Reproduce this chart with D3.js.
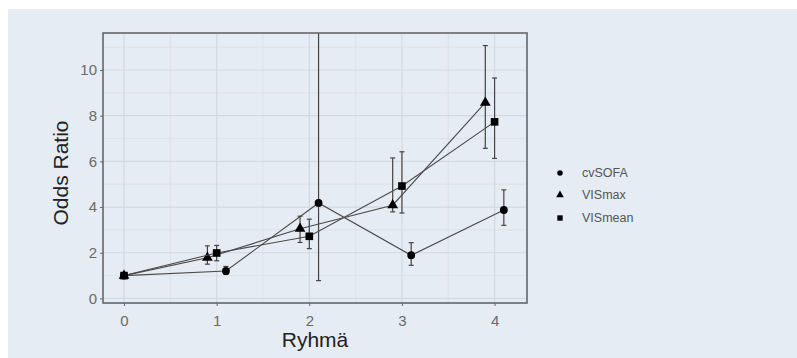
<!DOCTYPE html>
<html>
<head>
<meta charset="utf-8">
<script src="https://cdn.jsdelivr.net/npm/d3@7"></script>
<style>
  body { margin: 0; background: #fff; }
  text { font-family: "Liberation Sans", Arial, sans-serif; }
</style>
</head>
<body>
<div id="chart"></div>
<script>
// data
var groups = [0, 1, 2, 3, 4];
var seriesNames = ["cvSOFA", "VISmax", "VISmean"];
var cvSOFA = [1.0, 1.2, 4.18, 1.89, 3.87];
var cvSOFALow = [1.0, 1.05, 0.78, 1.45, 3.2];
var cvSOFAHigh = [1.0, 1.4, 20, 2.44, 4.75];
var VISmax = [1.0, 1.78, 3.05, 4.08, 8.57];
var VISmaxLow = [1.0, 1.5, 2.45, 3.79, 6.57];
var VISmaxHigh = [1.0, 2.3, 3.6, 6.15, 11.07];
var VISmean = [1.0, 1.99, 2.72, 4.92, 7.73];
var VISmeanLow = [1.0, 1.65, 2.18, 3.74, 6.13];
var VISmeanHigh = [1.0, 2.32, 3.47, 6.42, 9.65];
var dodge = [0.1, -0.1, 0];
var yTicks = [0, 2, 4, 6, 8, 10];

var svgWidth = 797;
var svgHeight = 358;

var panel = { left: 103, top: 33, right: 527, bottom: 303 };

var svg = d3.select("#chart")
            .append("svg")
            .attr("width", svgWidth)
            .attr("height", svgHeight);

// plot background
svg.append("rect")
   .attr("x", 8).attr("y", 9)
   .attr("width", svgWidth - 8).attr("height", svgHeight - 9)
   .attr("fill", "#e6ecf3");

var xScale = d3.scaleLinear()
               .domain([-0.227, 4.35])
               .range([panel.left, panel.right]);
var yScale = d3.scaleLinear()
               .domain([-0.2, 11.62])
               .range([panel.bottom, panel.top]);

var chartGroup = svg.append("g");

svg.append("clipPath").attr("id", "clip")
   .append("rect")
   .attr("x", panel.left).attr("y", panel.top)
   .attr("width", panel.right - panel.left)
   .attr("height", panel.bottom - panel.top);

// grid
var minorX = [0.5, 1.5, 2.5, 3.5];
var minorY = [1, 3, 5, 7, 9, 11];
chartGroup.selectAll(".gxm").data(minorX).enter().append("line")
   .attr("x1", d => xScale(d)).attr("x2", d => xScale(d))
   .attr("y1", panel.top).attr("y2", panel.bottom)
   .attr("stroke", "#d9e0e8").attr("stroke-width", 0.8);
chartGroup.selectAll(".gym").data(minorY).enter().append("line")
   .attr("y1", d => yScale(d)).attr("y2", d => yScale(d))
   .attr("x1", panel.left).attr("x2", panel.right)
   .attr("stroke", "#d9e0e8").attr("stroke-width", 0.8);
chartGroup.selectAll(".gx").data(groups).enter().append("line")
   .attr("x1", d => xScale(d)).attr("x2", d => xScale(d))
   .attr("y1", panel.top).attr("y2", panel.bottom)
   .attr("stroke", "#d2d9e2").attr("stroke-width", 1.2);
chartGroup.selectAll(".gy").data(yTicks).enter().append("line")
   .attr("y1", d => yScale(d)).attr("y2", d => yScale(d))
   .attr("x1", panel.left).attr("x2", panel.right)
   .attr("stroke", "#d2d9e2").attr("stroke-width", 1.2);

// axes
var xAxis = d3.axisBottom(xScale).tickValues(groups).tickSize(3).tickPadding(9).tickFormat(d3.format("d"));
var yAxis = d3.axisLeft(yScale).tickValues(yTicks).tickSize(3).tickPadding(3);

var gx = chartGroup.append("g")
   .attr("transform", `translate(0, ${panel.bottom})`)
   .call(xAxis);
var gy = chartGroup.append("g")
   .attr("transform", `translate(${panel.left}, 0)`)
   .call(yAxis);
[gx, gy].forEach(function(g) {
    g.select(".domain").remove();
    g.selectAll(".tick line").attr("stroke", "#666");
    g.selectAll(".tick text").attr("fill", "#6a6a6a").attr("font-size", 15);
});

// series
var series = [
    { name: seriesNames[0], y: cvSOFA, lo: cvSOFALow, hi: cvSOFAHigh, shape: d3.symbolCircle, size: 48 },
    { name: seriesNames[1], y: VISmax, lo: VISmaxLow, hi: VISmaxHigh, shape: d3.symbolTriangle, size: 50 },
    { name: seriesNames[2], y: VISmean, lo: VISmeanLow, hi: VISmeanHigh, shape: d3.symbolSquare, size: 58 }
];

var marks = chartGroup.append("g").attr("clip-path", "url(#clip)");

series.forEach(function(s, i) {
    var pts = groups.map(function(g, j) {
        return { x: g === 0 ? 0 : g + dodge[i], y: s.y[j], lo: s.lo[j], hi: s.hi[j] };
    });
    var line = d3.line().x(d => xScale(d.x)).y(d => yScale(d.y));
    marks.append("path")
        .datum(pts)
        .attr("d", line)
        .attr("fill", "none")
        .attr("stroke", "#4a4a4a")
        .attr("stroke-width", 1.1);

    var eb = marks.selectAll(".eb" + i).data(pts.filter(d => d.hi > d.lo)).enter().append("g");
    eb.append("line")
      .attr("x1", d => xScale(d.x)).attr("x2", d => xScale(d.x))
      .attr("y1", d => yScale(d.lo)).attr("y2", d => yScale(d.hi))
      .attr("stroke", "#444").attr("stroke-width", 1.2);
    eb.append("line")
      .attr("x1", d => xScale(d.x) - 2.5).attr("x2", d => xScale(d.x) + 2.5)
      .attr("y1", d => yScale(d.lo)).attr("y2", d => yScale(d.lo))
      .attr("stroke", "#444").attr("stroke-width", 1.2);
    eb.append("line")
      .attr("x1", d => xScale(d.x) - 2.5).attr("x2", d => xScale(d.x) + 2.5)
      .attr("y1", d => yScale(d.hi)).attr("y2", d => yScale(d.hi))
      .attr("stroke", "#444").attr("stroke-width", 1.2);

    marks.selectAll(".pt" + i).data(pts).enter().append("path")
      .attr("d", d3.symbol().type(s.shape).size(s.size))
      .attr("transform", d => `translate(${xScale(d.x)}, ${yScale(d.y)})`)
      .attr("fill", "#000");
});

// panel border
chartGroup.append("rect")
   .attr("x", panel.left).attr("y", panel.top)
   .attr("width", panel.right - panel.left)
   .attr("height", panel.bottom - panel.top)
   .attr("fill", "none")
   .attr("stroke", "#666")
   .attr("stroke-width", 1.6);

// axis titles
svg.append("text")
   .attr("x", (panel.left + panel.right) / 2)
   .attr("y", 347)
   .attr("text-anchor", "middle")
   .attr("font-size", 21)
   .attr("fill", "#222")
   .text("Ryhmä");
svg.append("text")
   .attr("transform", `translate(68, ${(panel.top + panel.bottom) / 2 + 5}) rotate(-90)`)
   .attr("text-anchor", "middle")
   .attr("font-size", 21)
   .attr("fill", "#222")
   .text("Odds Ratio");

// legend
var legendY = [173, 195, 218];
var legend = svg.append("g");
series.forEach(function(s, i) {
    legend.append("path")
      .attr("d", d3.symbol().type(s.shape).size(s.size * 0.5))
      .attr("transform", `translate(560, ${legendY[i]})`)
      .attr("fill", "#000");
    legend.append("text")
      .attr("x", 582)
      .attr("y", legendY[i] + 4)
      .attr("font-size", 12.5)
      .attr("fill", "#555")
      .text(s.name);
});
</script>
</body>
</html>
